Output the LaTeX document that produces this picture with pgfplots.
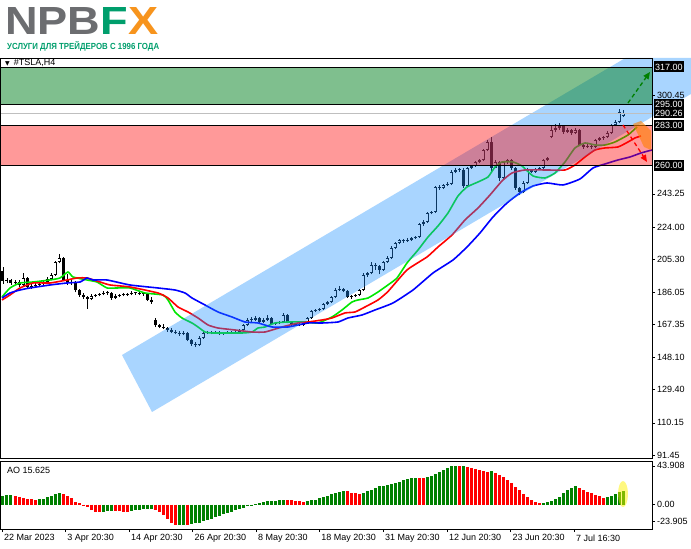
\documentclass[border=0pt]{standalone}
\usepackage{fontspec}
\setmainfont{Liberation Sans}
\newfontfamily\dejavu{DejaVu Sans}
\usepackage{graphicx}
\usepackage{pgfplots}
\usepackage{pgfplotstable}
\pgfplotsset{compat=1.18}
\usetikzlibrary{arrows.meta}

\definecolor{logogray}{RGB}{108,109,112}
\definecolor{logogreen}{RGB}{0,158,108}
\definecolor{logoorange}{RGB}{247,148,29}
\definecolor{chan}{RGB}{30,144,255}
\definecolor{zgreen}{RGB}{0,128,30}
\definecolor{malime}{RGB}{0,230,0}
\definecolor{aogreen}{RGB}{0,128,0}
\definecolor{aored}{RGB}{255,0,0}

\pgfplotsset{nomark/.style={only marks, mark=*, mark size=0pt,
  mark options={draw opacity=0, fill opacity=0}}}

% bar index, open, high, low, close
\pgfplotstableread{
i o h l c
0 198.5 200.5 191.0 192.5
1 192.5 194.6 191.2 193.2
2 193.2 194.0 190.2 191.4
3 191.4 193.3 190.5 192.0
4 192.0 193.0 189.1 190.3
5 190.3 197.0 189.8 194.3
6 194.3 195.0 188.0 189.1
7 189.1 190.8 188.2 189.7
8 189.7 191.3 188.7 190.3
9 190.3 192.0 189.5 190.9
10 190.9 193.0 190.2 192.0
11 192.0 194.8 191.3 193.8
12 193.8 197.0 193.0 196.1
13 196.1 204.5 195.5 203.6
14 203.6 208.5 202.8 206.0
15 206.0 206.8 192.5 193.2
16 193.2 196.5 190.5 191.4
17 191.4 193.0 190.2 192.0
18 192.0 192.8 186.0 187.4
19 187.4 188.2 183.5 184.5
20 184.5 185.5 182.0 183.3
21 183.3 184.0 176.5 182.1
22 182.1 185.0 181.5 183.9
23 183.9 185.3 183.0 184.5
24 184.5 185.8 183.6 185.0
25 185.0 186.5 184.2 185.6
26 185.6 186.8 184.6 185.6
27 185.6 186.0 181.8 182.7
28 182.7 184.8 182.0 183.9
29 183.9 185.3 183.1 184.5
30 184.5 185.4 183.7 184.5
31 184.5 185.9 183.8 185.0
32 185.0 186.5 184.3 185.6
33 185.6 186.4 184.7 185.6
34 185.6 186.2 184.2 185.0
35 185.0 185.8 184.1 185.0
36 185.0 185.6 180.9 181.6
37 181.6 183.3 179.5 180.4
38 170.0 171.2 165.8 167.0
39 167.0 167.8 165.0 165.9
40 165.9 167.5 164.5 165.3
41 165.3 166.0 163.2 164.1
42 164.1 165.0 162.2 163.0
43 163.0 164.2 161.6 162.4
44 162.4 163.3 160.8 161.8
45 161.8 163.3 161.0 162.4
46 162.4 162.9 157.5 158.3
47 158.3 159.0 155.0 156.0
48 156.0 157.0 154.2 155.4
49 155.4 160.5 155.0 159.5
50 159.5 163.2 159.0 162.4
51 162.4 163.8 161.7 163.0
52 163.0 163.5 161.6 162.4
53 162.4 163.8 161.8 163.0
54 163.0 163.6 161.1 161.8
55 161.8 163.1 161.2 162.4
56 162.4 163.7 161.8 163.0
57 163.0 163.4 161.7 162.4
58 162.4 163.7 161.9 163.0
59 163.0 164.9 162.5 164.1
60 164.1 167.8 163.6 167.0
61 167.0 170.8 166.5 169.9
62 169.9 171.5 168.7 169.9
63 169.9 172.0 169.2 171.1
64 171.1 171.8 168.0 168.8
65 168.8 170.8 168.2 169.9
66 169.9 172.6 169.3 171.1
67 171.1 171.9 166.9 167.6
68 167.6 168.9 167.0 168.2
69 168.2 169.5 167.5 168.8
70 168.8 174.0 168.2 172.8
71 172.8 173.5 168.0 168.8
72 168.8 169.4 166.2 167.0
73 167.0 168.4 166.5 167.6
74 167.6 168.2 166.2 167.0
75 167.0 169.0 166.5 168.2
76 168.2 171.8 167.7 171.1
77 171.1 175.9 170.6 175.2
78 175.2 176.5 174.5 175.7
79 175.7 177.0 175.0 176.3
80 176.3 179.9 175.8 179.2
81 179.2 181.2 178.6 180.4
82 180.4 184.0 179.8 183.3
83 183.3 188.4 182.7 187.4
84 187.4 189.8 186.7 187.9
85 187.9 188.6 186.0 186.8
86 186.8 187.5 182.6 183.3
87 183.3 184.7 182.0 183.9
88 183.9 185.3 183.2 184.5
89 184.5 188.2 184.0 187.4
90 187.4 197.0 186.8 196.1
91 196.1 198.0 195.2 197.2
92 197.2 203.6 196.5 201.9
93 201.9 202.8 199.2 201.3
94 201.3 202.0 196.5 199.0
95 199.0 204.5 198.5 203.6
96 203.6 207.2 203.0 206.0
97 206.0 212.8 205.4 211.8
98 211.8 215.5 211.0 214.7
99 214.7 217.2 213.8 216.4
100 216.4 216.9 214.9 215.9
101 215.9 217.3 215.2 216.4
102 216.4 218.4 215.8 217.6
103 217.6 219.0 216.9 218.2
104 218.2 226.5 217.5 225.7
105 225.7 227.8 224.8 226.9
106 226.9 232.9 226.2 232.1
107 232.1 233.5 231.3 232.7
108 232.7 248.0 232.0 247.2
109 247.2 248.2 245.6 246.7
110 246.7 249.2 246.0 248.4
111 248.4 250.0 247.6 249.0
112 249.0 256.9 248.3 256.0
113 256.0 258.2 255.2 257.1
114 257.1 258.0 255.8 257.1
115 257.1 258.2 246.8 248.0
116 248.0 259.0 247.5 258.3
117 258.3 260.2 257.6 259.4
118 259.4 262.6 258.9 261.8
119 261.8 263.7 261.2 262.9
120 262.9 269.5 262.3 268.7
121 268.7 274.6 268.0 273.4
122 273.4 276.0 256.8 258.5
123 258.5 263.0 258.0 261.8
124 261.8 262.6 250.5 252.5
125 252.5 262.6 251.8 261.8
126 261.8 263.6 260.6 262.9
127 262.9 263.4 257.0 258.3
128 258.3 259.0 245.5 246.7
129 246.7 247.5 242.8 244.3
130 244.3 250.5 243.6 249.6
131 249.6 258.0 249.0 257.1
132 257.1 257.8 255.2 256.0
133 256.0 258.5 255.4 257.7
134 257.7 259.0 257.0 258.3
135 258.3 263.7 257.8 262.9
136 262.9 264.9 262.3 264.1
137 276.0 282.5 275.5 280.4
138 280.4 284.0 279.0 281.5
139 281.5 284.5 280.5 282.7
140 282.7 283.5 278.3 279.2
141 279.2 281.5 278.5 280.4
142 280.4 281.2 277.5 278.6
143 278.6 281.5 278.0 280.4
144 280.4 281.0 270.8 271.7
145 271.7 272.8 269.5 270.5
146 270.5 272.2 269.8 271.1
147 271.1 271.8 269.4 270.5
148 270.5 275.4 270.0 274.6
149 274.6 276.5 274.0 275.7
150 275.7 277.0 274.6 276.3
151 276.3 279.5 275.8 278.6
152 278.6 284.0 278.0 283.3
153 283.3 286.2 282.5 285.0
154 285.0 292.5 284.4 290.8
155 288.6 291.8 287.9 290.3
}\candles

% AO value, g = 1 rising (green), 0 falling (red)
\pgfplotstableread{
i v g
0 10.0 1
1 10.5 1
2 10.6 1
3 9.5 0
4 8.0 0
5 7.0 0
6 6.2 0
7 5.8 0
8 5.6 0
9 6.0 1
10 6.6 1
11 8.0 1
12 10.0 1
13 12.0 1
14 13.5 1
15 12.5 0
16 10.0 0
17 7.0 0
18 3.0 0
19 1.5 0
20 -0.5 0
21 -3.0 0
22 -6.0 0
23 -8.0 0
24 -9.0 0
25 -8.2 1
26 -7.6 1
27 -7.3 1
28 -7.5 0
29 -7.8 0
30 -8.0 0
31 -8.1 0
32 -7.5 1
33 -6.6 1
34 -5.8 1
35 -5.3 1
36 -5.0 1
37 -4.8 1
38 -6.0 0
39 -9.0 0
40 -12.0 0
41 -16.0 0
42 -20.5 0
43 -23.5 0
44 -23.3 1
45 -23.1 1
46 -23.4 0
47 -22.5 1
48 -21.5 1
49 -20.5 1
50 -19.0 1
51 -17.5 1
52 -16.0 1
53 -14.2 1
54 -12.5 1
55 -11.0 1
56 -9.5 1
57 -8.0 1
58 -6.5 1
59 -5.0 1
60 -3.5 1
61 -2.0 1
62 -0.6 1
63 0.9 1
64 2.0 1
65 3.0 1
66 3.5 1
67 4.0 1
68 4.5 1
69 5.0 1
70 5.6 1
71 5.1 0
72 4.7 0
73 4.3 0
74 3.8 0
75 3.3 0
76 3.8 1
77 4.6 1
78 5.6 1
79 7.0 1
80 8.5 1
81 10.0 1
82 11.5 1
83 13.0 1
84 14.5 1
85 15.6 1
86 15.0 0
87 13.6 0
88 12.6 0
89 12.0 0
90 13.5 1
91 15.0 1
92 17.0 1
93 19.0 1
94 20.5 1
95 21.5 1
96 22.5 1
97 23.0 1
98 24.0 1
99 25.5 1
100 27.5 1
101 29.0 1
102 30.0 1
103 30.6 1
104 30.3 0
105 30.0 0
106 31.0 1
107 32.5 1
108 34.5 1
109 37.0 1
110 39.5 1
111 42.0 1
112 43.2 1
113 43.9 1
114 43.7 0
115 43.8 1
116 43.0 0
117 41.5 0
118 40.0 0
119 38.8 0
120 37.8 0
121 37.2 0
122 37.8 1
123 36.0 0
124 34.0 0
125 31.0 0
126 28.0 0
127 24.0 0
128 20.0 0
129 16.0 0
130 12.0 0
131 8.5 0
132 5.5 0
133 2.8 0
134 1.2 0
135 2.0 1
136 3.0 1
137 4.5 1
138 6.0 1
139 9.0 1
140 13.0 1
141 16.5 1
142 18.8 1
143 21.0 1
144 19.0 0
145 16.5 0
146 14.5 0
147 12.8 0
148 11.0 0
149 9.2 0
150 7.9 0
151 8.3 1
152 10.2 1
153 12.2 1
154 14.0 1
155 15.625 1
}\aotab

\begin{document}
\begin{tikzpicture}[x=1pt,y=1pt]
\path[use as bounding box] (0,0) rectangle (691,549);

% ---------- logo ----------
\node[anchor=base west, inner sep=0] at (5,514)
  {\resizebox{153pt}{27pt}{\bfseries\color{logogray}NPB\color{logogreen}F\color{logoorange}X}};
\node[anchor=base west, inner sep=0] at (7,499)
  {\resizebox{152pt}{8pt}{\bfseries\color{logogreen}УСЛУГИ ДЛЯ ТРЕЙДЕРОВ С 1996 ГОДА}};

% ---------- price panel ----------
\begin{axis}[
  at={(0.5pt,91pt)}, anchor=south west,
  scale only axis, width=651.5pt, height=400pt,
  xmin=-0.625, xmax=162.25, ymin=89.71, ymax=322.2,
  clip=false, axis on top,
  axis line style={black, line width=0.8pt},
  xtick=\empty,
  ytick={91.45,110.15,129.40,148.10,167.35,186.05,205.30,224.00,243.25,300.45},
  ytick pos=right, yticklabel pos=right,
  tick align=outside, major tick length=3pt,
  tick style={black, line width=0.6pt},
  scaled y ticks=false,
  yticklabel style={font=\fontsize{9}{10}\selectfont, anchor=west, xshift=-1.5pt,
    /pgf/number format/fixed, /pgf/number format/fixed zerofill,
    /pgf/number format/precision=2, /pgf/number format/1000 sep={},
    /pgf/number format/assume math mode=true},
]
% wicks
\addplot[nomark, forget plot,
  error bars/.cd, y dir=plus, y explicit, error mark=none,
  error bar style={line width=0.9pt, black}]
  table[x=i, y=l, y error expr=\thisrow{h}-\thisrow{l}] {\candles};
% bodies
\addplot[nomark, forget plot,
  error bars/.cd, y dir=plus, y explicit, error mark=none,
  error bar style={line width=3pt, black}]
  table[x=i, y expr={min(\thisrow{o},\thisrow{c})},
        y error expr={max(abs(\thisrow{c}-\thisrow{o}),0.6)}] {\candles};
% hollow bull bodies
\addplot[nomark, forget plot,
  error bars/.cd, y dir=plus, y explicit, error mark=none,
  error bar style={line width=1.1pt, white}]
  table[x=i, y expr={\thisrow{o}+0.6},
        y error expr={(\thisrow{c}>\thisrow{o}+1.2) ? (\thisrow{c}-\thisrow{o}-1.2) : 0}] {\candles};

% moving averages
\addplot[malime, line width=1.6pt, smooth, tension=0.3] coordinates {
(-0.25,183.29) (1.75,188.53) (4.25,191.43) (7.5,192.01) (11.75,193.18) (14.25,194.34) (16.25,197.83) (17.5,194.92) (21,193.18) (23.5,192.01) (26,188.53) (28.5,188.53) (31.75,188.53) (35.5,185.62) (40,184.46) (41.25,181.55) (43,174.58) (44.75,171.09) (47.25,168.18) (48.75,165.86) (50.5,162.95) (52.25,162.37) (59.75,162.37) (62.25,162.95) (63.75,165.27) (65.5,165.86) (68,168.18) (71.25,168.76) (75.5,168.76) (78.75,168.18) (82.25,171.67) (84.75,175.74) (87.25,180.39) (88.75,181.55) (91.25,182.71) (93.75,186.20) (96.25,190.3) (98.5,194.34) (101,203.06) (103.75,210.61) (106.25,218.17) (108.75,224.57) (111.25,232.12) (113.75,242.00) (116,247.24) (118.75,250.14) (121.25,253.05) (123,258.86) (124.75,261.77) (127.5,261.77) (129.75,259.44) (132.5,253.63) (135.5,252.47) (138,255.37) (140.5,261.77) (143,269.91) (145.5,272.81) (148,271.65) (150.5,271.65) (153,273.39) (156.25,277.46) (158.5,282.11)};
\addplot[red, line width=1.6pt, smooth, tension=0.3] coordinates {
(-0.25,181.55) (1.75,184.46) (4.25,188.53) (7.5,191.43) (11.75,191.43) (16,193.18) (18.5,194.34) (21,194.34) (24.25,192.01) (26.75,190.27) (31.75,189.11) (38.75,185.62) (41.25,182.71) (43.75,177.48) (46.25,174.58) (48.75,171.09) (51.25,167.02) (53.75,165.27) (58,164.11) (62.25,162.95) (65.5,162.95) (69.75,165.86) (73.75,168.18) (76.25,168.76) (79.75,169.92) (82.25,171.09) (85.5,174.00) (88,174.58) (90.5,177.48) (93.75,181.55) (96.25,186.5) (101,198.99) (106,206.55) (108.75,212.36) (112.25,219.33) (115.5,228.06) (118.75,235.03) (121.75,242.59) (124.75,250.72) (127.25,255.37) (130.5,257.12) (135.5,257.12) (140.5,257.12) (143,260.02) (145.5,264.67) (148,268.74) (150.5,269.91) (153.75,270.49) (156.25,273.39) (158,275.72) (159.5,276.88)};
\addplot[blue, line width=1.6pt, smooth, tension=0.3] coordinates {
(-0.25,182.71) (1.75,185.62) (4.25,187.36) (6.75,188.53) (11.75,190.27) (16,191.43) (19.25,192.01) (21,194.34) (22.5,193.18) (26,193.18) (31.75,190.27) (38.75,188.53) (43,187.36) (45.5,185.62) (47.25,182.71) (50.5,178.64) (53.75,174.58) (57.25,171.67) (60.5,168.76) (63.75,168.18) (67.25,165.86) (71.25,165.86) (76.25,168.18) (79.75,168.18) (83.75,168.76) (86.25,171.09) (89.75,172.83) (93,175.74) (97.5,179.81) (102.5,187.36) (107.5,197.24) (112.5,204.80) (116,212.36) (119.25,220.50) (122.5,229.80) (126,237.94) (129.25,243.75) (132.5,247.82) (136,249.56) (140,248.40) (144.25,251.89) (147.5,258.28) (150.5,260.60) (153.75,262.93) (156.75,264.67) (159.5,266.99) (162.25,268.74)};

% price channel
\addplot[draw=none, fill=chan, fill opacity=0.38] coordinates {
(29.75,149.58) (37.25,116.45) (172,301.3) (172,322.2) (155.6,322.2)} -- cycle;
% red zone
\addplot[draw=none, fill=red, fill opacity=0.4] coordinates {
(-0.625,260) (162.25,260) (162.25,283) (-0.625,283)} -- cycle;
% green zone
\addplot[draw=none, fill=zgreen, fill opacity=0.5] coordinates {
(-0.625,295) (162.25,295) (162.25,317) (-0.625,317)} -- cycle;
% zone borders and bid line
\addplot[black, line width=0.8pt] coordinates {(-0.625,317) (162.25,317)};
\addplot[black, line width=0.8pt] coordinates {(-0.625,295) (162.25,295)};
\addplot[black, line width=0.8pt] coordinates {(-0.625,283) (162.25,283)};
\addplot[black, line width=0.8pt] coordinates {(-0.625,260) (162.25,260)};
\addplot[black!25, line width=0.8pt] coordinates {(-0.625,290.26) (162.25,290.26)};
% orange highlight
\addplot[draw=none, fill=orange, fill opacity=0.6] coordinates {
(157.5,283.86) (159.5,285.6) (162,279.79) (162,268.74) (160.25,270.49)} -- cycle;
% scenario arrows
\addplot[aogreen, line width=1.3pt, dash pattern=on 4pt off 3pt, -{Triangle[length=7pt,width=6pt]}]
  coordinates {(156.25,296.07) (161.75,314.08)};
\addplot[red, line width=1.3pt, dash pattern=on 4pt off 3pt, -{Triangle[length=7pt,width=6pt]}]
  coordinates {(155,283.28) (161,261.77)};

\coordinate (L317) at (axis cs:162.25,317);
\coordinate (L295) at (axis cs:162.25,295);
\coordinate (L290) at (axis cs:162.25,290.26);
\coordinate (L283) at (axis cs:162.25,283);
\coordinate (L260) at (axis cs:162.25,260);
\end{axis}

% price boxes
\foreach \c/\t in {L317/317.00, L295/295.00, L290/290.26, L283/283.00, L260/260.00}{
  \node[fill=black, text=white, anchor=west, inner xsep=1.5pt, inner ysep=0pt,
        minimum height=11pt, font=\fontsize{9}{10}\selectfont] at ([xshift=1.5pt]\c) {\t};
}
\node[anchor=west, inner sep=0, font=\fontsize{9}{10}\selectfont] at (5,486)
  {{\dejavu\fontsize{6}{6}\selectfont ▼}\hspace{4pt}\#TSLA,H4};

% ---------- AO panel ----------
\begin{axis}[
  at={(0.5pt,20pt)}, anchor=south west,
  scale only axis, width=651.5pt, height=68pt,
  xmin=-0.625, xmax=162.25, ymin=-27.84, ymax=49.43,
  axis on top,
  axis line style={black, line width=0.8pt},
  xtick={-0.2,15.6,31.5,47.4,63.25,79.1,95,111,126.9,142.75},
  xticklabels={22 Mar 2023,3 Apr 20:30,14 Apr 20:30,26 Apr 20:30,8 May 20:30,18 May 20:30,31 May 20:30,12 Jun 20:30,23 Jun 20:30,7 Jul 16:30},
  xtick pos=bottom,
  xticklabel style={font=\fontsize{9}{10}\selectfont, anchor=north west, xshift=-1.5pt, yshift=1pt},
  ytick={-18.75,0,43.908},
  yticklabels={-23.905,0.00,43.908},
  ytick pos=right, yticklabel pos=right,
  yticklabel style={font=\fontsize{9}{10}\selectfont, anchor=west, xshift=-1.5pt},
  tick align=outside, major tick length=3pt,
  tick style={black, line width=0.6pt},
]
% AO histogram: rising bars green, falling bars red
\addplot[nomark, forget plot,
  error bars/.cd, y dir=plus, y explicit, error mark=none,
  error bar style={line width=3pt, aogreen}]
  table[x=i, y expr=0, y error expr={(\thisrow{g}>0.5) ? \thisrow{v} : 0}] {\aotab};
\addplot[nomark, forget plot,
  error bars/.cd, y dir=plus, y explicit, error mark=none,
  error bar style={line width=3pt, aored}]
  table[x=i, y expr=0, y error expr={(\thisrow{g}<0.5) ? \thisrow{v} : 0}] {\aotab};
\draw[draw=none, fill=yellow, fill opacity=0.5] (axis cs:155,11.9) ellipse [x radius=5pt, y radius=13pt];
\end{axis}
\node[anchor=west, inner sep=0, font=\fontsize{9}{10}\selectfont] at (7,79) {AO 15.625};
\end{tikzpicture}
\end{document}
